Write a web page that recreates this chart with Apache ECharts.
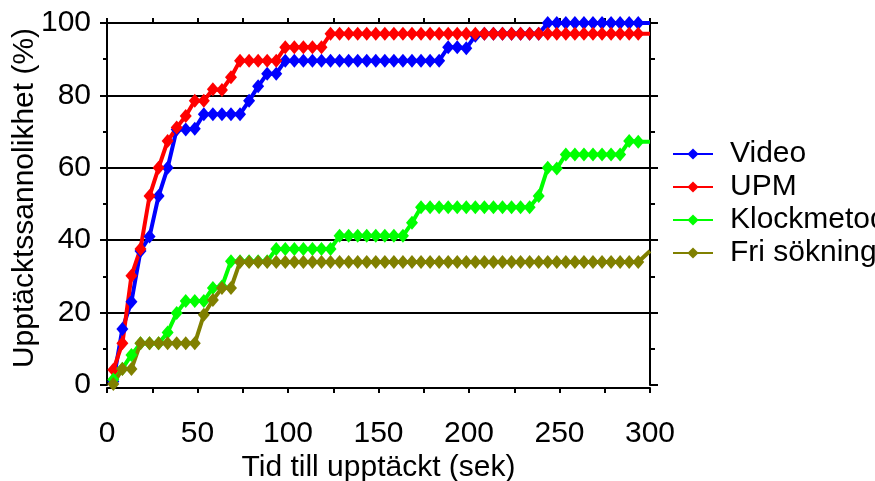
<!DOCTYPE html>
<html>
<head>
<meta charset="utf-8">
<script src="https://cdn.jsdelivr.net/npm/echarts@6/dist/echarts.min.js"></script>
<style>
html,body{margin:0;padding:0;background:#fff;}
#chart{width:875px;height:481px;}
</style>
</head>
<body>
<div id="chart"></div>
<script>
// Sample times (s): markers every 5 s, last point at the axis end
const times = [3.5, 8.5, 13.5, 18.5, 23.5, 28.5, 33.5, 38.5, 43.5, 48.5,
  53.5, 58.5, 63.5, 68.5, 73.5, 78.5, 83.5, 88.5, 93.5, 98.5,
  103.5, 108.5, 113.5, 118.5, 123.5, 128.5, 133.5, 138.5, 143.5, 148.5,
  153.5, 158.5, 163.5, 168.5, 173.5, 178.5, 183.5, 188.5, 193.5, 198.5,
  203.5, 208.5, 213.5, 218.5, 223.5, 228.5, 233.5, 238.5, 243.5, 248.5,
  253.5, 258.5, 263.5, 268.5, 273.5, 278.5, 283.5, 288.5, 293.5, 300];

const seriesNames = ['Video', 'UPM', 'Klockmetoden', 'Fri sökning'];

const video = [1, 15.5, 23, 37, 41, 52.2, 60, 70.6, 70.6, 70.8,
  74.8, 74.8, 74.8, 74.8, 74.8, 78.5, 82.5, 86, 86, 89.6,
  89.6, 89.6, 89.6, 89.6, 89.6, 89.6, 89.6, 89.6, 89.6, 89.6,
  89.6, 89.6, 89.6, 89.6, 89.6, 89.6, 89.6, 93.3, 93.3, 93,
  96.5, 97, 97, 97, 97, 97, 97, 97, 100, 100,
  100, 100, 100, 100, 100, 100, 100, 100, 100, 100];

const upm = [4.2, 11.5, 30.2, 37.6, 52.2, 60, 67.4, 71.1, 74.3, 78.5,
  78.5, 81.7, 81.5, 85, 89.6, 89.6, 89.6, 89.6, 89.6, 93.3,
  93.3, 93.3, 93.3, 93.3, 97, 97, 97, 97, 97, 97,
  97, 97, 97, 97, 97, 97, 97, 97, 97, 97,
  97, 97, 97, 97, 97, 97, 97, 97, 97, 97,
  97, 97, 97, 97, 97, 97, 97, 97, 97, 97];

const klock = [1.5, 4.5, 8.3, 11.5, 11.5, 11.5, 14.5, 19.9, 23.2, 23.2,
  23.2, 26.8, 27.2, 34.2, 34.2, 34.2, 34.2, 34.2, 37.6, 37.6,
  37.6, 37.6, 37.6, 37.6, 37.6, 41.2, 41.2, 41.2, 41.2, 41.2,
  41.2, 41.2, 41.2, 44.8, 49.1, 49.1, 49.1, 49.1, 49.1, 49.1,
  49.1, 49.1, 49.1, 49.1, 49.1, 49.1, 49.1, 52.2, 60, 59.8,
  63.7, 63.7, 63.7, 63.7, 63.7, 63.7, 63.7, 67.4, 67.2, 67.2];

const fri = [0.3, 4.4, 4.4, 11.5, 11.5, 11.5, 11.5, 11.5, 11.5, 11.5,
  19.4, 23.5, 26.8, 26.8, 34, 34, 34, 34, 34, 34,
  34, 34, 34, 34, 34, 34, 34, 34, 34, 34,
  34, 34, 34, 34, 34, 34, 34, 34, 34, 34,
  34, 34, 34, 34, 34, 34, 34, 34, 34, 34,
  34, 34, 34, 34, 34, 34, 34, 34, 34, 37];

const xTicks = [0, 50, 100, 150, 200, 250, 300];
const yTicks = [0, 20, 40, 60, 80, 100];

const colors = ['#0000ff', '#ff0000', '#00ff00', '#808000'];
const FONT = 'Liberation Sans, Arial, sans-serif';

function build(vals) {
  return vals.map((v, i) => {
    const item = { value: [times[i], v] };
    if (i === vals.length - 1) item.symbol = 'none';
    return item;
  });
}

const allVals = [video, upm, klock, fri];

const chart = echarts.init(document.getElementById('chart'), null, { renderer: 'canvas' });

const axisLine = { show: true, onZero: false, lineStyle: { color: '#000', width: 2 } };

chart.setOption({
  animation: false,
  backgroundColor: '#fff',
  grid: { left: 107, right: 225, top: 23, bottom: 96, containLabel: false, outerBoundsMode: 'none' },
  legend: {
    orient: 'vertical',
    left: 667,
    top: 134,
    itemWidth: 40,
    itemHeight: 14,
    itemGap: 3,
    data: seriesNames,
    textStyle: { fontFamily: FONT, fontSize: 30, color: '#000', lineHeight: 30, padding: [0, 0, 0, 12] }
  },
  xAxis: [
    {
      type: 'value', position: 'bottom', offset: 3,
      min: xTicks[0], max: xTicks[xTicks.length - 1], interval: xTicks[1] - xTicks[0],
      name: 'Tid till upptäckt (sek)', nameLocation: 'middle', nameGap: 65,
      nameMoveOverlap: false,
      nameTextStyle: { fontFamily: FONT, fontSize: 30, color: '#000' },
      axisLine: axisLine,
      axisTick: { show: true, inside: false, length: 5, lineStyle: { color: '#000', width: 2 } },
      minorTick: { show: true, splitNumber: 2, length: 5, lineStyle: { color: '#000', width: 2 } },
      axisLabel: { fontFamily: FONT, fontSize: 30, color: '#000', margin: 31 },
      splitLine: { show: false }
    },
    {
      type: 'value', position: 'top',
      min: xTicks[0], max: xTicks[xTicks.length - 1], interval: 25,
      axisLine: axisLine,
      axisTick: { show: true, inside: false, length: 5, lineStyle: { color: '#000', width: 2 } },
      axisLabel: { show: false },
      splitLine: { show: false }
    }
  ],
  yAxis: [
    {
      type: 'value', position: 'left',
      min: yTicks[0], max: yTicks[yTicks.length - 1], interval: yTicks[1] - yTicks[0],
      name: 'Upptäcktssannolikhet (%)', nameLocation: 'middle', nameGap: 67,
      nameMoveOverlap: false,
      nameTextStyle: { fontFamily: FONT, fontSize: 30, color: '#000', padding: [0, 0, 0, 12] },
      axisLine: axisLine,
      axisTick: { show: true, inside: false, length: 7, lineStyle: { color: '#000', width: 2 } },
      minorTick: { show: true, splitNumber: 2, length: 4, lineStyle: { color: '#000', width: 2 } },
      axisLabel: { fontFamily: FONT, fontSize: 30, color: '#000', margin: 16 },
      splitLine: { show: true, lineStyle: { color: ['rgba(0,0,0,0)', '#000', '#000', '#000', '#000', 'rgba(0,0,0,0)'], width: 2 } }
    },
    {
      type: 'value', position: 'right',
      min: yTicks[0], max: yTicks[yTicks.length - 1], interval: yTicks[1] - yTicks[0],
      axisLine: axisLine,
      axisTick: { show: true, inside: false, length: 8, lineStyle: { color: '#000', width: 2 } },
      minorTick: { show: true, splitNumber: 2, length: 5, lineStyle: { color: '#000', width: 2 } },
      axisLabel: { show: false },
      splitLine: { show: false }
    }
  ],
  series: seriesNames.map((name, i) => ({
    name: name,
    type: 'line',
    xAxisIndex: 0,
    yAxisIndex: 0,
    data: build(allVals[i]),
    clip: false,
    color: colors[i],
    symbol: 'diamond',
    symbolSize: [12, 14],
    showAllSymbol: true,
    lineStyle: { width: 4, color: colors[i] },
    itemStyle: { color: colors[i] }
  }))
});
</script>
</body>
</html>
